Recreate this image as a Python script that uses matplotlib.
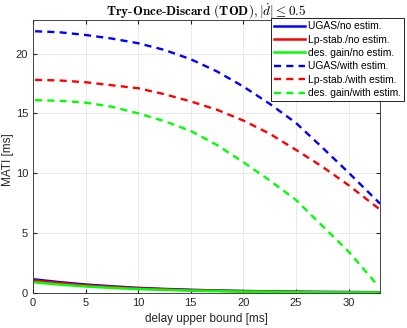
import matplotlib
matplotlib.use('Agg')
import matplotlib.pyplot as plt

plt.rcParams['font.family'] = ['Liberation Sans', 'DejaVu Sans']
plt.rcParams['mathtext.fontset'] = 'cm'

# delay upper bound [ms]
delay = [0.2, 2.5, 5, 7.5, 10, 12.5, 15, 17.5, 20, 22.5, 25, 27.5, 30, 33]
delay_gain = [0.2, 2.5, 5, 7.5, 10, 12.5, 15, 17.5, 20, 22.5, 25, 27.5, 30, 32.8]

# MATI without estimation
ugas_no = [1.12, 0.9, 0.7, 0.55, 0.42, 0.33, 0.26, 0.2, 0.16, 0.13, 0.1, 0.08, 0.07, 0.06]
lp_no = [1.02, 0.82, 0.63, 0.5, 0.38, 0.3, 0.23, 0.18, 0.14, 0.11, 0.09, 0.07, 0.06, 0.05]
gain_no = [0.88, 0.7, 0.54, 0.42, 0.32, 0.25, 0.19, 0.15, 0.11, 0.09, 0.07, 0.05, 0.04, 0.03]

# MATI with estimation
ugas_with = [21.86, 21.78, 21.55, 21.25, 20.86, 20.3, 19.52, 18.5, 17.24, 15.8, 14.2, 12.15, 10.05, 7.45]
lp_with = [17.8, 17.75, 17.6, 17.35, 17.1, 16.6, 16.0, 15.3, 14.4, 13.3, 11.95, 10.55, 9.0, 6.95]
gain_with = [16.1, 16.05, 15.9, 15.55, 15.0, 14.35, 13.53, 12.35, 10.92, 9.4, 7.77, 5.6, 3.45, 0.6]

labels = ['UGAS/no estim.', 'Lp-stab./no estim.', 'des. gain/no estim.',
          'UGAS/with estim.', 'Lp-stab./with estim.', 'des. gain/with estim.']

fig = plt.figure(figsize=(4.07, 3.28), dpi=100)
ax = fig.add_axes([0.081, 0.107, 0.853, 0.832])

dash = (0, (3, 2.2))
ax.plot(delay, ugas_no, color='#0000ff', lw=1.8, label=labels[0])
ax.plot(delay, lp_no, color='#ff0000', lw=1.8, label=labels[1])
ax.plot(delay, gain_no, color='#00ff00', lw=1.8, label=labels[2])
ax.plot(delay, ugas_with, color='#0000ff', lw=1.7, ls=dash, label=labels[3])
ax.plot(delay, lp_with, color='#ff0000', lw=1.7, ls=dash, label=labels[4])
ax.plot(delay_gain, gain_with, color='#00ff00', lw=1.7, ls=dash, label=labels[5])

ax.set_xlim(0, 33)
ax.set_ylim(0, 22.8)
ax.set_xticks([0, 5, 10, 15, 20, 25, 30])
ax.set_yticks([0, 5, 10, 15, 20])
ax.tick_params(direction='in', labelsize=8, colors='#262626', length=3, top=True, right=True)
ax.grid(True, color='#e6e6e6', lw=0.6)
ax.set_axisbelow(True)
for s in ax.spines.values():
    s.set_color('#262626')
    s.set_linewidth(0.6)

ax.set_xlabel('delay upper bound [ms]', fontsize=8.5, color='#262626')
ax.set_ylabel('MATI [ms]', fontsize=8.5, color='#262626')
ax.yaxis.set_label_coords(-0.055, 0.49)
ax.set_title(r'$\mathbf{Try\text{-}Once\text{-}Discard\ (TOD)}, |\dot{d}| \leq 0.5$',
             fontsize=9.5, pad=4)

leg = ax.legend(loc='upper right', bbox_to_anchor=(1.07, 1.007), borderaxespad=0,
                fontsize=7.4, handlelength=3.0, labelspacing=0.33, fancybox=False,
                edgecolor='black', framealpha=1, borderpad=0.3, handletextpad=0.3)
leg.get_frame().set_linewidth(0.6)

fig.savefig('out.png', dpi=100)
